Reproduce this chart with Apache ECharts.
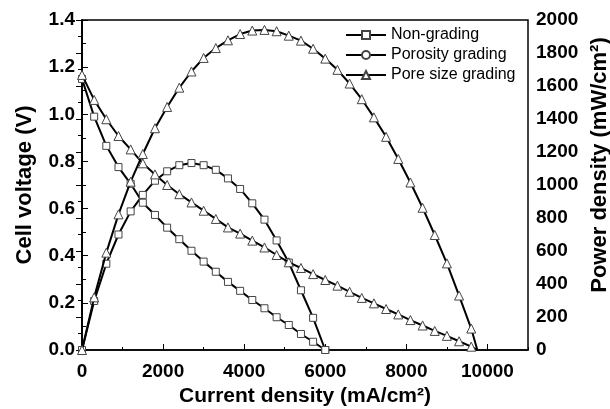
<!DOCTYPE html>
<html>
<head>
<meta charset="utf-8">
<script src="https://cdn.jsdelivr.net/npm/echarts@6/dist/echarts.min.js"></script>
<style>html,body{margin:0;padding:0;background:#fff}#c{width:610px;height:409px}</style>
</head>
<body>
<div id="c"></div>
<script>
// Current density (mA/cm2)
const currentNon = [0,300,600,900,1200,1500,1800,2100,2400,2700,3000,3300,3600,3900,4200,4500,4800,5100,5400,5700,6000];
const voltageNon = [1.15,0.99,0.866,0.776,0.705,0.625,0.573,0.519,0.47,0.421,0.375,0.332,0.289,0.251,0.212,0.177,0.139,0.106,0.068,0.035,0];
const powerNon = [0,297,523,700,840,940,1026,1083,1120,1133,1120,1092,1040,976,889,790,664,530,362,195,0];

const currentPore = [0,300,600,900,1200,1500,1800,2100,2400,2700,3000,3300,3600,3900,4200,4500,4800,5100,5400,5700,6000,6300,6600,6900,7200,7500,7800,8100,8400,8700,9000,9300,9600,9750];
const voltagePore = [1.167,1.061,0.979,0.908,0.851,0.792,0.745,0.70,0.661,0.626,0.591,0.556,0.520,0.494,0.464,0.435,0.403,0.372,0.348,0.322,0.297,0.273,0.247,0.221,0.198,0.174,0.151,0.127,0.104,0.081,0.060,0.037,0.014,0];
const powerPore = [0,319,590,822,1020,1188,1344,1473,1590,1688,1770,1830,1877,1915,1936,1940,1932,1905,1875,1826,1766,1698,1615,1520,1410,1292,1158,1015,862,697,525,330,130,0];

// Porosity grading: no marks are visible in the reference (legend entry only)
const currentPorosity = [];
const voltagePorosity = [];
const powerPorosity = [];

const xTicks = [0,2000,4000,6000,8000,10000];
const names = ['Non-grading','Porosity grading','Pore size grading'];

function pairs(xs, ys, lastNoSymbol) {
  return xs.map((x, i) => {
    if (lastNoSymbol && i === xs.length - 1) return {value: [x, ys[i]], symbol: 'none'};
    return [x, ys[i]];
  });
}

const FONT = 'Liberation Sans';
const lineStyle = {color: '#000', width: 2};
const itemStyle = {color: '#fff', borderColor: '#444', borderWidth: 1};

function mk(name, sym, size, data, yIdx, z) {
  return {
    name, type: 'line', data, yAxisIndex: yIdx, xAxisIndex: 0,
    symbol: sym, symbolSize: size, showAllSymbol: true,
    lineStyle, itemStyle, z: z, animation: false,
    emphasis: {disabled: true}
  };
}

const chart = echarts.init(document.getElementById('c'));
chart.setOption({
  animation: false,
  backgroundColor: '#fff',
  grid: {left: 82, right: 82, top: 20, bottom: 59, show: true, borderColor: '#000', borderWidth: 1.5, outerBoundsMode: 'none'},
  legend: {
    data: names, orient: 'vertical', left: 340, top: 22,
    itemWidth: 40, itemHeight: 10, itemGap: 4,
    textStyle: {fontFamily: FONT, fontSize: 16, color: '#000'}
  },
  xAxis: [{
    type: 'value', min: 0, max: 11000, interval: 2000,
    name: 'Current density (mA/cm²)', nameLocation: 'middle', nameGap: 30,
    nameTextStyle: {fontFamily: FONT, fontWeight: 'bold', fontSize: 21, color: '#000'},
    axisLine: {show: true, lineStyle: {color: '#000', width: 1.5}},
    axisTick: {show: true, inside: true, length: 6, lineStyle: {color: '#000'}},
    axisLabel: {show: true, showMaxLabel: false, margin: 12, fontFamily: FONT, fontWeight: 'bold', fontSize: 19, color: '#000',
      formatter: v => xTicks.indexOf(v) >= 0 ? String(v) : ''},
    splitLine: {show: false}
  }, {
    type: 'value', min: 0, max: 11000, interval: 1000, position: 'bottom',
    axisLine: {show: false}, axisLabel: {show: false}, splitLine: {show: false},
    axisTick: {show: true, inside: true, length: 3, lineStyle: {color: '#000'}}
  }],
  yAxis: [{
    type: 'value', min: 0, max: 1.4, interval: 0.2, position: 'left',
    name: 'Cell voltage (V)', nameLocation: 'middle', nameGap: 46, nameRotate: 90,
    nameTextStyle: {fontFamily: FONT, fontWeight: 'bold', fontSize: 22, color: '#000'},
    axisLine: {show: true, lineStyle: {color: '#000', width: 1.5}},
    axisTick: {show: true, inside: true, length: 6, lineStyle: {color: '#000'}},
    minorTick: {show: true, splitNumber: 2, length: 4, lineStyle: {color: '#000'}},
    axisLabel: {margin: 7, fontFamily: FONT, fontWeight: 'bold', fontSize: 19, color: '#000', formatter: v => v.toFixed(1)},
    splitLine: {show: false}
  }, {
    type: 'value', min: 0, max: 2000, interval: 200, position: 'right',
    name: 'Power density (mW/cm²)', nameLocation: 'middle', nameGap: 56, nameRotate: 90,
    nameTextStyle: {fontFamily: FONT, fontWeight: 'bold', fontSize: 22, color: '#000', padding: [0, 0, 0, 40]},
    axisLine: {show: true, lineStyle: {color: '#000', width: 1.5}},
    axisTick: {show: true, inside: true, length: 6, lineStyle: {color: '#000'}},
    minorTick: {show: true, splitNumber: 2, length: 4, lineStyle: {color: '#000'}},
    axisLabel: {margin: 8, fontFamily: FONT, fontWeight: 'bold', fontSize: 19, color: '#000', formatter: v => String(v)},
    splitLine: {show: false}
  }],
  series: [
    mk(names[0], 'rect', 7, pairs(currentNon, voltageNon), 0, 3),
    mk(names[0], 'rect', 7, pairs(currentNon, powerNon), 1, 3),
    mk(names[1], 'circle', 8, pairs(currentPorosity, voltagePorosity), 0, 2),
    mk(names[1], 'circle', 8, pairs(currentPorosity, powerPorosity), 1, 2),
    mk(names[2], 'triangle', 9, pairs(currentPore, voltagePore, true), 0, 4),
    mk(names[2], 'triangle', 9, pairs(currentPore, powerPore, true), 1, 4)
  ]
});
</script>
</body>
</html>
